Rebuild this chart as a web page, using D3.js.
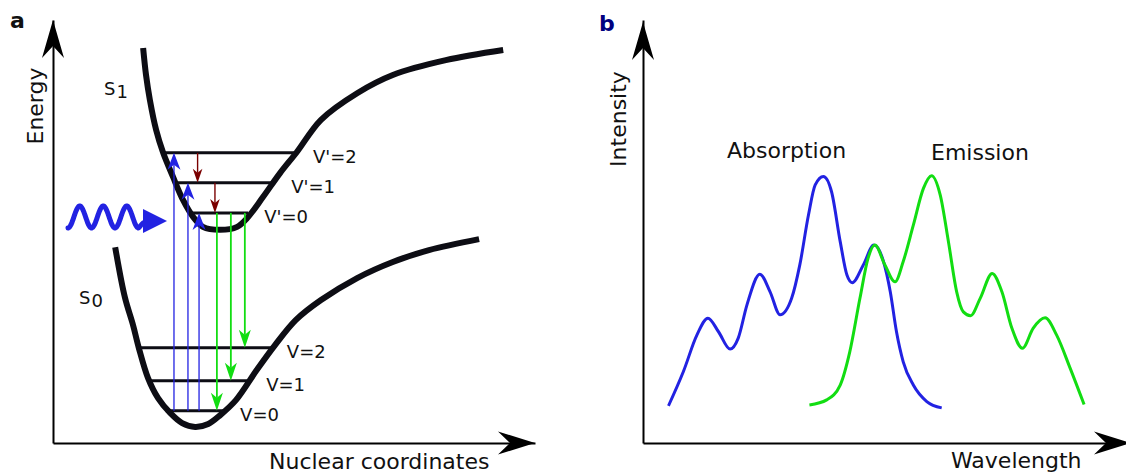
<!DOCTYPE html>
<html>
<head>
<meta charset="utf-8">
<script src="https://cdn.jsdelivr.net/npm/d3@7"></script>
<style>
body { margin: 0; background: #fff; }
text { font-family: "DejaVu Sans", sans-serif; fill: #111; }
</style>
</head>
<body>
<div id="mainDiv"></div>
<script>
// ---- panel a : potential energy curves (nuclear coordinate, energy) ----
var s1Coord  = [18.7, 19.3, 20.1, 21.4, 22.8, 24.9, 27.0, 29.1, 31.1, 34.7, 38.2, 40.3, 43.6, 47.1, 50.6, 55.6, 63.1, 70.5, 81.5, 93.4];
var s1Energy = [93.4, 87.0, 81.1, 74.0, 68.8, 62.9, 57.4, 53.4, 51.1, 50.4, 51.1, 53.2, 58.2, 63.8, 68.8, 76.4, 82.7, 87.0, 90.5, 92.9];
var s0Coord  = [12.9, 14.9, 16.6, 17.8, 19.7, 21.8, 24.3, 26.8, 29.5, 32.2, 34.7, 38.0, 42.3, 46.1, 50.4, 55.6, 63.1, 70.5, 78.0, 88.4];
var s0Energy = [46.3, 34.5, 27.9, 22.5, 15.4, 10.6, 7.1, 4.7, 3.8, 4.5, 6.6, 10.2, 17.3, 23.2, 29.1, 33.8, 39.0, 42.8, 45.6, 48.2];

// vibrational levels, index 0,1,2
var s1LevelNames  = ["V'=0", "V'=1", "V'=2"];
var s1LevelEnergy = [54.4, 61.5, 68.6];
var s1LevelFrom   = [28.4, 25.3, 23.2];
var s1LevelTo     = [40.5, 46.1, 50.6];
var s0LevelNames  = ["V=0", "V=1", "V=2"];
var s0LevelEnergy = [7.6, 14.7, 22.5];
var s0LevelFrom   = [23.4, 19.9, 17.8];
var s0LevelTo     = [35.5, 40.9, 45.2];

// transitions (coordinate of the arrow, target level index)
var absorbCoord = [30.3, 28.0, 25.1];   // S0 v=0 -> S1 v'=0,1,2
var absorbTo    = [0, 1, 2];
var relaxCoord  = [33.6, 30.0];         // S1 v'=1->0, v'=2->1
var relaxFrom   = [1, 2];
var emitCoord   = [34.0, 36.9, 39.8];   // S1 v'=0 -> S0 v=0,1,2
var emitTo      = [0, 1, 2];

// ---- panel b : spectra (wavelength, intensity) ----
var absWavelength = [5.3, 8.4, 11.2, 13.5, 15.7, 18.1, 19.8, 21.6, 24.3, 26.4, 28.5, 30.9, 32.6, 34.4, 35.8, 37.5, 39.2, 41.0, 42.4, 43.5, 45.8, 48.0, 50.0, 51.4, 52.7, 54.1, 56.2, 59.0, 62.1];
var absIntensity  = [8.8, 16.9, 25.5, 29.5, 26.3, 22.2, 24.8, 32.6, 39.9, 35.8, 30.3, 34.2, 42.1, 53.9, 61.0, 63.0, 59.4, 47.6, 39.7, 37.9, 42.1, 46.8, 42.9, 35.8, 26.3, 19.2, 13.7, 9.8, 8.3];
var emWavelength  = [34.6, 38.2, 41.0, 43.0, 45.1, 46.8, 48.2, 50.3, 52.4, 54.1, 56.2, 58.3, 60.0, 61.8, 63.5, 65.2, 66.6, 68.1, 70.1, 72.6, 74.6, 76.7, 78.9, 81.1, 83.6, 86.0, 88.8, 91.7];
var emIntensity   = [9.0, 10.2, 13.7, 21.6, 34.2, 43.7, 46.8, 42.1, 38.1, 42.9, 51.5, 60.2, 63.2, 58.6, 47.6, 35.8, 31.0, 30.1, 34.2, 40.1, 35.8, 27.1, 22.4, 27.1, 29.6, 25.5, 17.7, 9.1];

var BLUE = "#2222e2", GREEN = "#12dd12", RED = "#7a0000", INK = "#0d0d14";

var svg = d3.select("#mainDiv").append("svg")
    .attr("width", 1126)
    .attr("height", 475);

var xA = d3.scaleLinear().domain([0, 100]).range([53, 535]);
var yA = d3.scaleLinear().domain([0, 100]).range([443, 20]);
var xB = d3.scaleLinear().domain([0, 100]).range([643, 1124]);
var yB = d3.scaleLinear().domain([0, 100]).range([443, 20]);

// stealth style arrow head, tip at (x,y), pointing along angle (radians)
function arrowHead(g, x, y, ang, len, half, notch, color) {
    var dx = Math.cos(ang), dy = Math.sin(ang);
    var nx = -dy, ny = dx;
    var pts = [
        [x, y],
        [x - len * dx + half * nx, y - len * dy + half * ny],
        [x - notch * dx, y - notch * dy],
        [x - len * dx - half * nx, y - len * dy - half * ny]
    ];
    g.append("path")
        .attr("d", "M" + pts.map(function(p) { return p[0] + "," + p[1]; }).join("L") + "Z")
        .attr("fill", color);
}

function drawAxes(g, x, y, xTip, yTip) {
    g.append("g")
        .attr("transform", "translate(0," + y.range()[0] + ")")
        .call(d3.axisBottom(x).tickValues([]).tickSizeOuter(0))
        .select(".domain").attr("stroke", "#000").attr("stroke-width", 2);
    g.append("g")
        .attr("transform", "translate(" + x.range()[0] + ",0)")
        .call(d3.axisLeft(y).tickValues([]).tickSizeOuter(0))
        .select(".domain").attr("stroke", "#000").attr("stroke-width", 2);
    arrowHead(g, xTip, y.range()[0], 0, 37, 11.5, 25, "#000");
    arrowHead(g, x.range()[0], yTip, -Math.PI / 2, 38, 11, 26, "#000");
}

// ================= panel a =================
var ga = svg.append("g");
drawAxes(ga, xA, yA, 535, 20);

ga.append("text").attr("x", 10).attr("y", 28)
    .attr("font-size", 22).attr("font-weight", "bold").text("a");
ga.append("text")
    .attr("transform", "translate(43,106) rotate(-90)")
    .attr("text-anchor", "middle").attr("font-size", 22).text("Energy");
ga.append("text").attr("x", 269).attr("y", 469)
    .attr("font-size", 22).text("Nuclear coordinates");

var pes = d3.line()
    .x(function(d) { return xA(d[0]); })
    .y(function(d) { return yA(d[1]); })
    .curve(d3.curveCatmullRom.alpha(0.5));

[[s1Coord, s1Energy], [s0Coord, s0Energy]].forEach(function(c) {
    ga.append("path")
        .datum(d3.zip(c[0], c[1]))
        .attr("d", pes)
        .attr("fill", "none")
        .attr("stroke", INK)
        .attr("stroke-width", 6);
});

// vibrational levels
function drawLevels(names, energy, from, to) {
    energy.forEach(function(e, i) {
        ga.append("line")
            .attr("x1", xA(from[i])).attr("x2", xA(to[i]))
            .attr("y1", yA(e)).attr("y2", yA(e))
            .attr("stroke", INK).attr("stroke-width", 3);
        ga.append("text")
            .attr("x", xA(to[i]) + 16).attr("y", yA(e) + 10)
            .attr("font-size", 18)
            .text(names[i]);
    });
}
drawLevels(s1LevelNames, s1LevelEnergy, s1LevelFrom, s1LevelTo);
drawLevels(s0LevelNames, s0LevelEnergy, s0LevelFrom, s0LevelTo);

// state labels
var s1Lab = ga.append("text").attr("x", 104).attr("y", 95).attr("font-size", 18);
s1Lab.append("tspan").text("S");
s1Lab.append("tspan").attr("dy", 3).attr("dx", 1).text("1");
var s0Lab = ga.append("text").attr("x", 79).attr("y", 304).attr("font-size", 18);
s0Lab.append("tspan").text("S");
s0Lab.append("tspan").attr("dy", 3).attr("dx", 1).text("0");

// vertical transition with arrow
function transition(xv, e0, e1, color, width, len, half, notch) {
    var x = xA(xv), ya = yA(e0), yb = yA(e1);
    var up = yb < ya;
    ga.append("line")
        .attr("x1", x).attr("x2", x)
        .attr("y1", ya).attr("y2", up ? yb + notch : yb - notch)
        .attr("stroke", color).attr("stroke-width", width);
    arrowHead(ga, x, yb, up ? -Math.PI / 2 : Math.PI / 2, len, half, notch, color);
}

absorbCoord.forEach(function(c, i) {
    transition(c, s0LevelEnergy[0], s1LevelEnergy[absorbTo[i]], BLUE, 1.3, 17, 6.5, 12);
});
relaxCoord.forEach(function(c, i) {
    transition(c, s1LevelEnergy[relaxFrom[i]], s1LevelEnergy[relaxFrom[i] - 1], RED, 1.4, 14, 4.8, 10);
});
emitCoord.forEach(function(c, i) {
    transition(c, s1LevelEnergy[0], s0LevelEnergy[emitTo[i]], GREEN, 1.8, 18, 6, 13);
});

// incoming photon
var wavePts = d3.range(0, 70.6, 0.5).map(function(t) {
    return [68 + t, 217 + 11 * Math.cos(2 * Math.PI * t / 23.5)];
});
wavePts.push([143, 223], [149, 221]);
ga.append("path")
    .datum(wavePts)
    .attr("d", d3.line().curve(d3.curveCatmullRom))
    .attr("fill", "none").attr("stroke", BLUE).attr("stroke-width", 5)
    .attr("stroke-linecap", "round");
ga.append("path")
    .attr("d", "M143,209L167,221L143,233Z")
    .attr("fill", BLUE);

// ================= panel b =================
var gb = svg.append("g");
drawAxes(gb, xB, yB, 1131, 22);

gb.append("text").attr("x", 599).attr("y", 31)
    .attr("font-size", 22).attr("font-weight", "bold")
    .style("fill", "#000080").text("b");
gb.append("text")
    .attr("transform", "translate(626,119) rotate(-90)")
    .attr("text-anchor", "middle").attr("font-size", 22).text("Intensity");
gb.append("text").attr("x", 951).attr("y", 468)
    .attr("font-size", 22).text("Wavelength");
gb.append("text").attr("x", 727).attr("y", 158)
    .attr("font-size", 22).text("Absorption");
gb.append("text").attr("x", 931).attr("y", 160)
    .attr("font-size", 22).text("Emission");

var spec = d3.line()
    .x(function(d) { return xB(d[0]); })
    .y(function(d) { return yB(d[1]); })
    .curve(d3.curveMonotoneX);

gb.append("path")
    .datum(d3.zip(absWavelength, absIntensity))
    .attr("d", spec)
    .attr("fill", "none").attr("stroke", BLUE).attr("stroke-width", 3);
gb.append("path")
    .datum(d3.zip(emWavelength, emIntensity))
    .attr("d", spec)
    .attr("fill", "none").attr("stroke", GREEN).attr("stroke-width", 3);
</script>
</body>
</html>
